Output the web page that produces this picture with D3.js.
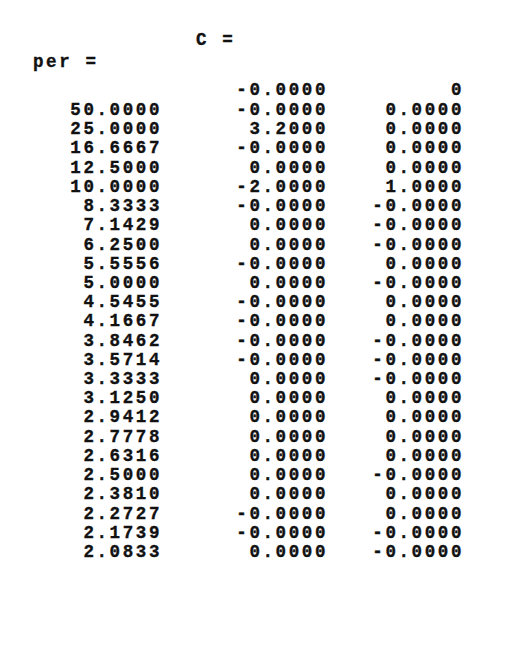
<!DOCTYPE html>
<html>
<head>
<meta charset="UTF-8">
<script src="https://d3js.org/d3.v7.min.js"></script>
<style>
  body { margin: 0; background: #fff; }
  text { font-family: "Liberation Mono", "DejaVu Sans Mono", monospace; font-weight: bold; font-size: 17.5px; fill: #111; letter-spacing: 2.6px; stroke: #111; stroke-width: 0.35px; }
</style>
</head>
<body>
<svg id="chart" width="511" height="664"></svg>
<script>
// displayed values (MATLAB-style output)
const per = ["50.0000","25.0000","16.6667","12.5000","10.0000","8.3333","7.1429","6.2500","5.5556","5.0000","4.5455","4.1667","3.8462","3.5714","3.3333","3.1250","2.9412","2.7778","2.6316","2.5000","2.3810","2.2727","2.1739","2.0833"];
const c1 = ["-0.0000","-0.0000","3.2000","-0.0000","0.0000","-2.0000","-0.0000","0.0000","0.0000","-0.0000","0.0000","-0.0000","-0.0000","-0.0000","-0.0000","0.0000","0.0000","0.0000","0.0000","0.0000","0.0000","0.0000","-0.0000","-0.0000","0.0000"];
const c2 = ["0","0.0000","0.0000","0.0000","0.0000","1.0000","-0.0000","-0.0000","-0.0000","0.0000","-0.0000","0.0000","0.0000","-0.0000","-0.0000","-0.0000","0.0000","0.0000","0.0000","0.0000","-0.0000","0.0000","0.0000","-0.0000","-0.0000"];

const svg = d3.select("#chart");
// row index -> baseline; row 0 is the header row of C (no per value)
const y = d3.scaleLinear().domain([1, 24]).range([115, 557]);
const yRow = i => i === 0 ? 95 : y(i);

svg.append("text").attr("x", 196).attr("y", 45).text("C =");
svg.append("text").attr("x", 33).attr("y", 67).text("per =");

svg.append("g").selectAll("text").data(per).join("text")
  .attr("x", 162).attr("y", (d, i) => yRow(i + 1))
  .attr("text-anchor", "end").text(d => d);
svg.append("g").selectAll("text").data(c1).join("text")
  .attr("x", 328).attr("y", (d, i) => yRow(i))
  .attr("text-anchor", "end").text(d => d);
svg.append("g").selectAll("text").data(c2).join("text")
  .attr("x", 464).attr("y", (d, i) => yRow(i))
  .attr("text-anchor", "end").text(d => d);
</script>
</body>
</html>
